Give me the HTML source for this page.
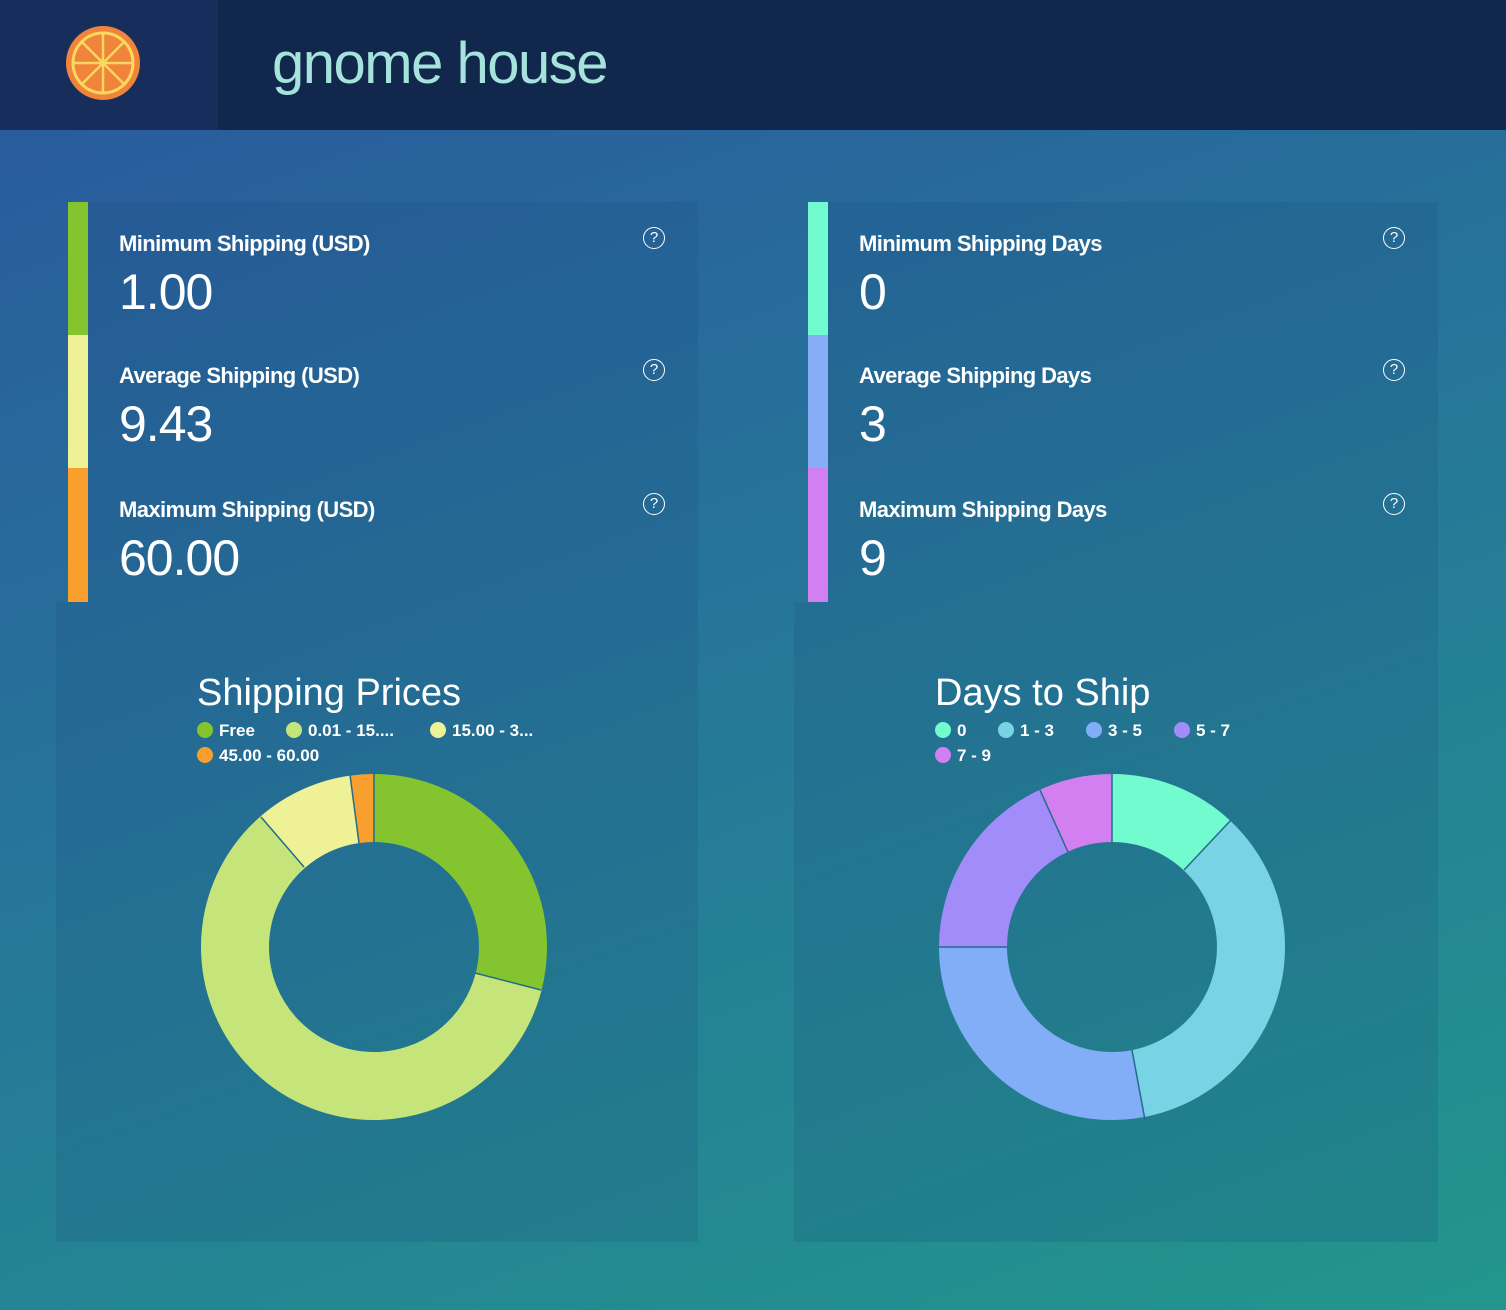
<!DOCTYPE html>
<html><head><meta charset="utf-8"><style>
*{margin:0;padding:0;box-sizing:border-box}
body{width:1506px;height:1310px;overflow:hidden;font-family:"Liberation Sans",sans-serif;color:#fff;
background:linear-gradient(160deg,#2a579c 0%,#26749a 45%,#22968c 100%);position:relative}
.hdr{position:absolute;left:0;top:0;width:1506px;height:130px;background:#11284c}
.logo{position:absolute;left:0;top:0;width:218px;height:130px;background:#172e5d}
.title{position:absolute;left:272px;top:30px;font-size:58px;color:#a6e3dc;letter-spacing:-1.5px}
.panel{position:absolute;background:rgba(30,70,120,0.18)}
.bar{position:absolute;width:20px;height:133px}
.lbl{position:absolute;font-size:22px;font-weight:600;letter-spacing:-0.6px}
.val{position:absolute;font-size:50px;letter-spacing:-1px}
.q{position:absolute;width:22px;height:22px;border:1.5px solid #fff;border-radius:50%;font-size:15px;text-align:center;line-height:19px}
.ct{position:absolute;font-size:38px}
.lg{position:absolute;font-size:17px;font-weight:bold}
.dot{display:inline-block;width:16px;height:16px;border-radius:50%;vertical-align:-2px;margin-right:6px}
</style></head><body>
<div class="hdr"></div><div class="logo"></div>
<svg style="position:absolute;left:64px;top:25px" width="78" height="76" viewBox="0 0 78 76">
<ellipse cx="39" cy="38" rx="37" ry="37" fill="#f0843a"/>
<ellipse cx="39" cy="38" rx="30" ry="30" fill="none" stroke="#fbd860" stroke-width="3"/>
<g stroke="#fbd860" stroke-width="2.5"><line x1="39" y1="8" x2="39" y2="68"/><line x1="9" y1="38" x2="69" y2="38"/><line x1="18" y1="17" x2="60" y2="59"/><line x1="60" y1="17" x2="18" y2="59"/></g></svg>
<div class="title">gnome house</div>

<div class="panel" style="left:68px;top:202px;width:630px;height:400px"></div>
<div class="panel" style="left:56px;top:602px;width:642px;height:640px"></div>
<div class="panel" style="left:808px;top:202px;width:630px;height:400px"></div>
<div class="panel" style="left:794px;top:602px;width:644px;height:640px"></div>

<div class="bar" style="left:68px;top:202px;background:#84c52f"></div>
<div class="bar" style="left:68px;top:335px;background:#eef196"></div>
<div class="bar" style="left:68px;top:468px;height:134px;background:#f99f2e"></div>
<div class="bar" style="left:808px;top:202px;background:#72fbcf"></div>
<div class="bar" style="left:808px;top:335px;background:#88adf7"></div>
<div class="bar" style="left:808px;top:468px;height:134px;background:#d27ff2"></div>

<div class="lbl" style="left:119px;top:231px">Minimum Shipping (USD)</div><div class="val" style="left:119px;top:263px">1.00</div>
<div class="lbl" style="left:119px;top:363px">Average Shipping (USD)</div><div class="val" style="left:119px;top:395px">9.43</div>
<div class="lbl" style="left:119px;top:497px">Maximum Shipping (USD)</div><div class="val" style="left:119px;top:529px">60.00</div>
<div class="lbl" style="left:859px;top:231px">Minimum Shipping Days</div><div class="val" style="left:859px;top:263px">0</div>
<div class="lbl" style="left:859px;top:363px">Average Shipping Days</div><div class="val" style="left:859px;top:395px">3</div>
<div class="lbl" style="left:859px;top:497px">Maximum Shipping Days</div><div class="val" style="left:859px;top:529px">9</div>
<div class="q" style="left:643px;top:227px">?</div><div class="q" style="left:643px;top:359px">?</div><div class="q" style="left:643px;top:493px">?</div>
<div class="q" style="left:1383px;top:227px">?</div><div class="q" style="left:1383px;top:359px">?</div><div class="q" style="left:1383px;top:493px">?</div>

<div class="ct" style="left:197px;top:672px">Shipping Prices</div>
<div class="lg" style="left:197px;top:721px"><span class="dot" style="background:#84c52f"></span>Free</div>
<div class="lg" style="left:286px;top:721px"><span class="dot" style="background:#c5e57a"></span>0.01 - 15....</div>
<div class="lg" style="left:430px;top:721px"><span class="dot" style="background:#eef196"></span>15.00 - 3...</div>
<div class="lg" style="left:197px;top:746px"><span class="dot" style="background:#f99f2e"></span>45.00 - 60.00</div>

<div class="ct" style="left:935px;top:672px">Days to Ship</div>
<div class="lg" style="left:935px;top:721px"><span class="dot" style="background:#72fbcf"></span>0</div>
<div class="lg" style="left:998px;top:721px"><span class="dot" style="background:#78d4e4"></span>1 - 3</div>
<div class="lg" style="left:1086px;top:721px"><span class="dot" style="background:#82adf7"></span>3 - 5</div>
<div class="lg" style="left:1174px;top:721px"><span class="dot" style="background:#a18cf9"></span>5 - 7</div>
<div class="lg" style="left:935px;top:746px"><span class="dot" style="background:#d27ff2"></span>7 - 9</div>

<svg style="position:absolute;left:0;top:0" width="1506" height="1310">
<g transform="translate(374,947) rotate(-90)" fill="none" stroke-width="68">
<circle r="139" pathLength="360" stroke="#84c52f" stroke-dasharray="104.4 360"/>
<circle r="139" pathLength="360" stroke="#c5e57a" stroke-dasharray="0 104.4 214.6 360"/>
<circle r="139" pathLength="360" stroke="#eef196" stroke-dasharray="0 319 33 360"/>
<circle r="139" pathLength="360" stroke="#f99f2e" stroke-dasharray="0 352 8 360"/>
</g>
<g transform="translate(1112,947) rotate(-90)" fill="none" stroke-width="68">
<circle r="139" pathLength="360" stroke="#72fbcf" stroke-dasharray="43 360"/>
<circle r="139" pathLength="360" stroke="#78d4e4" stroke-dasharray="0 43 126 360"/>
<circle r="139" pathLength="360" stroke="#82adf7" stroke-dasharray="0 169 101 360"/>
<circle r="139" pathLength="360" stroke="#a18cf9" stroke-dasharray="0 270 65 360"/>
<circle r="139" pathLength="360" stroke="#d27ff2" stroke-dasharray="0 335 25 360"/>
</g>
<g stroke="#236c8a" stroke-width="1.5">
<line x1="374" y1="774" x2="374" y2="842"/><line x1="475" y1="973" x2="541" y2="990"/><line x1="304" y1="867" x2="261" y2="817"/><line x1="359" y1="843" x2="350" y2="775"/>
<line x1="1112" y1="774" x2="1112" y2="842"/><line x1="1184" y1="870" x2="1231" y2="820"/><line x1="1132" y1="1050" x2="1145" y2="1120"/><line x1="939" y1="947" x2="1007" y2="947"/><line x1="1068" y1="852" x2="1040" y2="790"/>
</g>
</svg>
</body></html>
